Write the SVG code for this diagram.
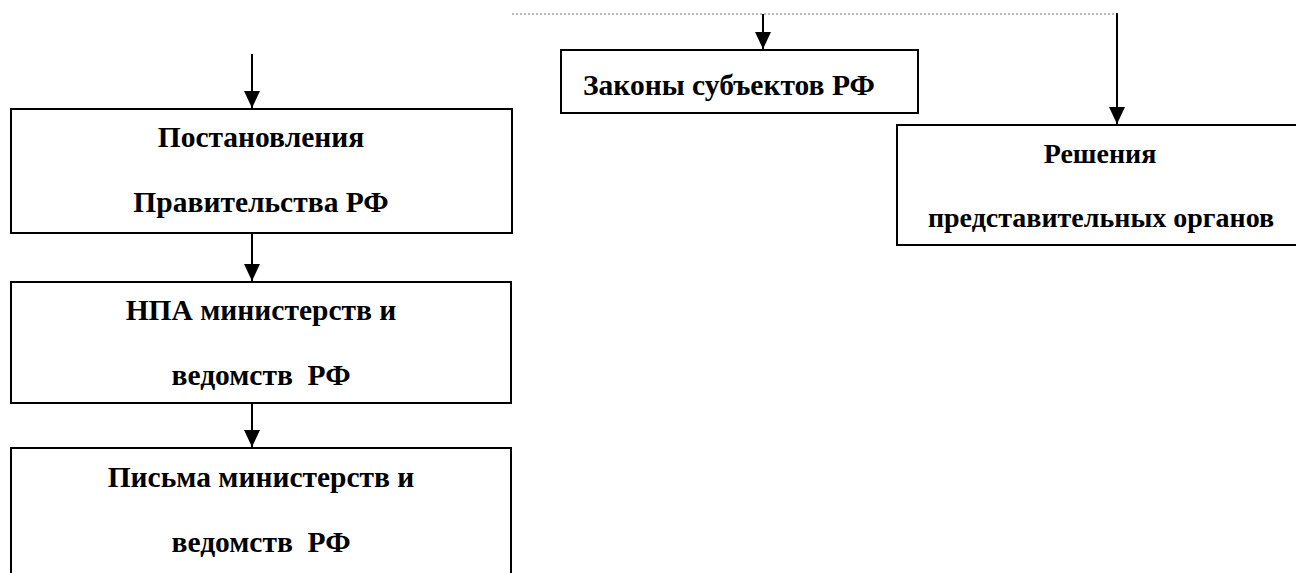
<svg xmlns="http://www.w3.org/2000/svg" width="1296" height="573" viewBox="0 0 1296 573">
<defs>
<marker id="arr" markerWidth="17" markerHeight="16" refX="17" refY="8" orient="auto" markerUnits="userSpaceOnUse" viewBox="0 0 17 16">
<path d="M0,0 L17,8 L0,16 Z" fill="#000"/>
</marker>
<style>
.box{fill:#fff;stroke:#000;stroke-width:2}
.t{font-family:"Liberation Serif","Times New Roman",serif;font-weight:bold;font-size:29.5px;fill:#000}
.s{font-size:28px}
.c{text-anchor:middle}
.ln{stroke:#000;stroke-width:2;fill:none}
.dot{stroke:#777;stroke-width:1;stroke-dasharray:2 2;fill:none}
</style>
</defs>
<rect width="1296" height="573" fill="#fff"/>
<g id="node-postanovleniya">
<rect class="box" x="11" y="109" width="501" height="124"/>
<text class="t c" x="261" y="147">Постановления</text>
<text class="t c" x="261" y="212">Правительства РФ</text>
</g>
<g id="node-npa">
<rect class="box" x="11" y="282" width="500" height="121"/>
<text class="t c" x="261" y="320">НПА министерств и</text>
<text class="t c" x="261" y="385" xml:space="preserve">ведомств  РФ</text>
</g>
<g id="node-pisma">
<rect class="box" x="11" y="448" width="500" height="140"/>
<text class="t c" x="261" y="487">Письма министерств и</text>
<text class="t c" x="261" y="552" xml:space="preserve">ведомств  РФ</text>
</g>
<g id="node-zakony">
<rect class="box" x="561" y="50" width="357" height="63"/>
<text class="t" x="583" y="95">Законы субъектов РФ</text>
</g>
<g id="node-resheniya">
<rect class="box" x="897" y="125" width="420" height="120"/>
<text class="t s c" x="1100" y="163">Решения</text>
<text class="t s c" x="1101" y="227">представительных органов</text>
</g>
<g id="connectors">
<line class="dot" x1="512" y1="14" x2="1117" y2="14"/>
<line class="ln" x1="252" y1="54" x2="252" y2="108" marker-end="url(#arr)"/>
<line class="ln" x1="252" y1="234" x2="252" y2="281" marker-end="url(#arr)"/>
<line class="ln" x1="252" y1="404" x2="252" y2="447" marker-end="url(#arr)"/>
<line class="ln" x1="763" y1="14" x2="763" y2="49" marker-end="url(#arr)"/>
<line class="ln" x1="1117" y1="13" x2="1117" y2="124" marker-end="url(#arr)"/>
</g>
</svg>
